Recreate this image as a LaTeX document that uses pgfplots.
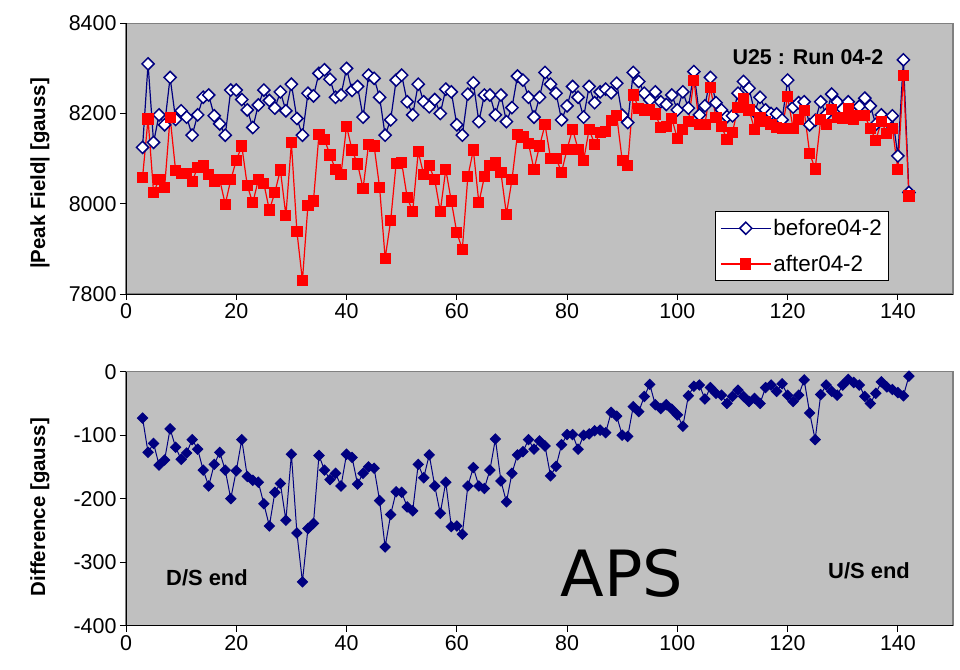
\documentclass[border=0pt]{standalone}
\usepackage{pgfplots}
\usepackage{pgfplotstable}
\pgfplotsset{compat=1.18}
\usepackage{fontspec}
\setmainfont{Liberation Sans}
\newfontfamily\apsfont{DejaVu Sans}
\definecolor{bg}{RGB}{192,192,192}
\definecolor{navy}{RGB}{0,0,128}
\definecolor{bord}{RGB}{128,128,128}

\pgfplotstableread{
x before after diff
3 8125 8058 -73
4 8310 8188 -127
5 8136 8025 -113
6 8197 8054 -147
7 8175 8036 -139
8 8280 8192 -90
9 8187 8073 -119
10 8206 8067 -138
11 8192 8067 -128
12 8152 8049 -107
13 8197 8081 -122
14 8236 8084 -155
15 8241 8065 -180
16 8195 8050 -146
17 8177 8053 -127
18 8152 7999 -155
19 8252 8053 -200
20 8252 8096 -156
21 8231 8128 -107
22 8208 8040 -165
23 8169 8002 -171
24 8219 8053 -174
25 8252 8045 -208
26 8229 7986 -243
27 8212 8025 -190
28 8248 8075 -176
29 8206 7974 -234
30 8265 8135 -130
31 8189 7938 -254
32 8152 7830 -331
33 8245 7997 -247
34 8239 8006 -239
35 8289 8154 -132
36 8297 8143 -155
37 8276 8108 -170
38 8236 8076 -160
39 8241 8065 -180
40 8300 8172 -130
41 8251 8119 -135
42 8260 8088 -177
43 8192 8034 -160
44 8285 8132 -150
45 8278 8128 -152
46 8236 8036 -203
47 8152 7879 -276
48 8186 7962 -225
49 8274 8090 -189
50 8285 8091 -190
51 8226 8014 -213
52 8197 7983 -219
53 8265 8115 -146
54 8226 8065 -167
55 8215 8084 -131
56 8231 8053 -180
57 8200 7983 -223
58 8254 8076 -174
59 8248 8006 -244
60 8175 7936 -243
61 8152 7899 -256
62 8243 8060 -180
63 8268 8119 -151
64 8182 8002 -180
65 8241 8060 -184
66 8241 8084 -155
67 8197 8091 -106
68 8241 8069 -172
69 8182 7977 -205
70 8213 8053 -160
71 8283 8154 -131
72 8274 8148 -126
73 8236 8134 -107
74 8192 8076 -122
75 8236 8128 -109
76 8291 8175 -117
77 8265 8101 -164
78 8245 8101 -149
79 8186 8070 -115
80 8217 8121 -99
81 8260 8165 -99
82 8236 8121 -122
83 8192 8096 -100
84 8260 8165 -98
85 8224 8132 -93
86 8248 8158 -92
87 8254 8160 -96
88 8246 8184 -64
89 8267 8195 -70
90 8196 8096 -100
91 8180 8084 -102
92 8291 8241 -55
93 8271 8212 -63
94 8245 8208 -39
95 8230 8209 -20
96 8248 8199 -52
97 8226 8169 -58
98 8220 8172 -52
99 8241 8189 -59
100 8208 8144 -68
101 8248 8165 -86
102 8212 8182 -38
103 8293 8274 -23
104 8197 8175 -21
105 8217 8175 -43
106 8280 8257 -25
107 8224 8192 -34
108 8208 8171 -37
109 8193 8143 -50
110 8195 8158 -39
111 8245 8214 -29
112 8271 8232 -39
113 8256 8208 -47
114 8204 8165 -42
115 8236 8190 -50
116 8208 8182 -25
117 8200 8175 -21
118 8199 8169 -31
119 8186 8166 -19
120 8274 8237 -37
121 8214 8167 -47
122 8224 8187 -37
123 8226 8206 -13
124 8175 8112 -65
125 8185 8077 -107
126 8226 8187 -36
127 8198 8176 -21
128 8243 8209 -31
129 8226 8192 -37
130 8210 8189 -21
131 8226 8212 -12
132 8200 8186 -17
133 8216 8195 -21
134 8234 8195 -39
135 8217 8167 -50
136 8176 8141 -34
137 8197 8182 -16
138 8184 8156 -24
139 8195 8167 -28
140 8106 8076 -33
141 8319 8285 -38
142 8025 8017 -7
}\data

\pgfplotsset{
  common/.style={
    scale only axis, width=827bp, anchor=south west,
    xmin=0, xmax=150, clip=false,
    axis lines*=left,
    axis line style={black, line width=0.8bp},
    axis background/.style={fill=bg, draw=bord, line width=1.2bp},
    tick align=outside, major tick length=6bp,
    tick style={black, line width=0.8bp},
    xtick={0,20,40,60,80,100,120,140},
    xticklabels={0,20,40,60,80,100,120,140},
    tick label style={font=\fontsize{21.5}{25}\selectfont},
    every axis y label/.style={rotate=90, anchor=center, font=\bfseries\fontsize{20.5}{24}\selectfont},
  }
}

\begin{document}
\begin{tikzpicture}[x=1bp,y=1bp]
\path[use as bounding box] (0,0) rectangle (960,670);

\begin{axis}[common, at={(126bp,376bp)}, height=270.7bp,
  ymin=7800, ymax=8400,
  ytick={7800,8000,8200,8400}, yticklabels={7800,8000,8200,8400},
  ylabel={|Peak Field| [gauss]},
  ylabel style={at={(axis description cs:-0.104,0.445)}},
  legend style={at={(axis description cs:0.712,0.3066)}, anchor=north west,
    draw=black, line width=0.8bp, fill=white, font=\fontsize{22.5}{26}\selectfont,
    row sep=14bp, inner xsep=5bp, inner ysep=6bp},
  legend cell align=left,
  legend image code/.code={\draw[mark repeat=2, mark phase=2, #1] plot coordinates {(0bp,0bp) (25bp,0bp) (50bp,0bp)};},
]
\addplot[navy, line width=1.2bp, mark=square*, mark size=4.3bp,
  mark options={rotate=45, fill=white, draw=navy, line width=1.5bp}]
  table[x=x, y=before] {\data};
\addlegendentry{before04-2}
\addplot[red, line width=1.2bp, mark=square*, mark size=5bp,
  mark options={fill=red, draw=red}]
  table[x=x, y=after] {\data};
\addlegendentry{after04-2}
\end{axis}

\begin{axis}[common, at={(126bp,44.3bp)}, height=254bp,
  ymin=-400, ymax=0,
  ytick={-400,-300,-200,-100,0}, yticklabels={-400,-300,-200,-100,0},
  ylabel={Difference [gauss]},
  ylabel style={at={(axis description cs:-0.104,0.467)}},
]
\addplot[navy, line width=1bp, mark=square*, mark size=3.6bp,
  mark options={rotate=45, fill=navy, draw=navy}]
  table[x=x, y=diff] {\data};
\end{axis}

\node[font=\bfseries\fontsize{21.5}{25}\selectfont, anchor=center, inner sep=0pt] at (808,613) {U25 : Run 04-2};
\node[font=\bfseries\fontsize{22}{26}\selectfont, anchor=center, inner sep=0pt] at (207,92) {D/S end};
\node[font=\bfseries\fontsize{22}{26}\selectfont, anchor=center, inner sep=0pt] at (869,99) {U/S end};
\node[font=\apsfont\fontsize{64}{70}\selectfont, anchor=center, inner sep=0pt] at (622,96.5) {APS};
\end{tikzpicture}
\end{document}
